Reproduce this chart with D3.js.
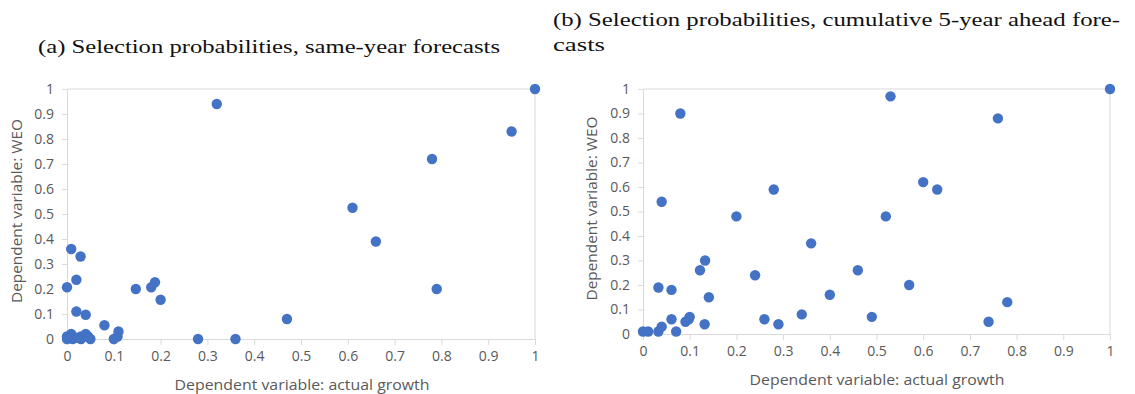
<!DOCTYPE html>
<html>
<head>
<meta charset="utf-8">
<script src="https://cdn.jsdelivr.net/npm/d3@7"></script>
<style>
  body { margin: 0; background: #fff; }
  .tick text { font-family: "Open Sans", sans-serif; font-size: 14px; fill: #595959; }
  .axis path, .axis line { stroke: #d9d9d9; }
</style>
</head>
<body>
<svg id="svg1" width="1135" height="394"></svg>
<script>
// (a) same-year forecasts
var actualA = [0.32, 1.0, 0.95, 0.78, 0.61, 0.66, 0.79, 0.47, 0.36, 0.28, 0.147, 0.18, 0.188, 0.2, 0.08, 0.11, 0.108, 0.10,
               0.009, 0.029, 0.02, 0.0, 0.02, 0.04, 0.0, 0.004, 0.009, 0.012, 0.03, 0.03, 0.04, 0.045, 0.05, 0.02, 0.0];
var weoA    = [0.94, 1.0, 0.83, 0.72, 0.525, 0.39, 0.20, 0.08, 0.0, 0.0, 0.20, 0.207, 0.227, 0.157, 0.055, 0.03, 0.01, 0.0,
               0.36, 0.33, 0.237, 0.207, 0.11, 0.097, 0.0, 0.01, 0.02, 0.0, 0.0, 0.01, 0.02, 0.01, 0.0, 0.005, 0.01];

// (b) cumulative 5-year ahead forecasts
var actualB = [0.0, 0.011, 0.033, 0.04, 0.061, 0.071, 0.091, 0.1, 0.132, 0.26, 0.29, 0.34, 0.49, 0.033, 0.061, 0.122, 0.133,
               0.141, 0.24, 0.04, 0.08, 0.2, 0.28, 0.36, 0.4, 0.46, 0.53, 0.52, 0.6, 0.63, 0.57, 0.74, 0.78, 0.76, 1.0, 0.098];
var weoB    = [0.01, 0.01, 0.01, 0.03, 0.06, 0.01, 0.05, 0.07, 0.04, 0.06, 0.04, 0.08, 0.07, 0.19, 0.18, 0.26, 0.30,
               0.15, 0.24, 0.54, 0.90, 0.48, 0.59, 0.37, 0.16, 0.26, 0.97, 0.48, 0.62, 0.59, 0.20, 0.05, 0.13, 0.88, 1.0, 0.06];

var ticks = [0, 0.1, 0.2, 0.3, 0.4, 0.5, 0.6, 0.7, 0.8, 0.9, 1];
var xTitle = "Dependent  variable: actual growth";
var yTitle = "Dependent  variable: WEO";

var svg = d3.select("#svg1");

// titles (serif, LaTeX caption look)
function caption(x, y, len, txt) {
    svg.append("text").attr("x", x).attr("y", y)
        .attr("textLength", len).attr("lengthAdjust", "spacingAndGlyphs")
        .style("font-family", "'Liberation Serif', serif").style("font-size", "19px").style("fill", "#111")
        .text(txt);
}
caption(38, 53, 462, "(a) Selection probabilities, same-year forecasts");
caption(553, 26, 567, "(b) Selection probabilities, cumulative 5-year ahead fore-");
caption(553, 51, 52, "casts");

function panel(xs, ys, left, right, top, bottom, xt, yt) {
    var x = d3.scaleLinear().domain([0, 1]).range([left, right]);
    var y = d3.scaleLinear().domain([0, 1]).range([bottom, top]);
    var g = svg.append("g");

    // top and right frame lines
    g.append("line").attr("x1", x(0)).attr("x2", x(1)).attr("y1", y(1)).attr("y2", y(1))
        .style("stroke", "#d9d9d9");
    g.append("line").attr("x1", x(1)).attr("x2", x(1)).attr("y1", y(0)).attr("y2", y(1))
        .style("stroke", "#d9d9d9");

    g.append("g").attr("class", "axis")
        .attr("transform", "translate(0," + y(0) + ")")
        .call(d3.axisBottom(x).tickValues(ticks).tickFormat(d3.format("")).tickSizeInner(6).tickSizeOuter(0).tickPadding(6));
    g.append("g").attr("class", "axis")
        .attr("transform", "translate(" + x(0) + ",0)")
        .call(d3.axisLeft(y).tickValues(ticks).tickFormat(d3.format("")).tickSizeInner(5).tickSizeOuter(0).tickPadding(8));

    g.append("text").attr("x", xt).attr("y", bottom + 51).attr("text-anchor", "middle")
        .attr("textLength", 255).attr("lengthAdjust", "spacingAndGlyphs")
        .style("font-family", "'Open Sans', sans-serif").style("font-size", "15px").style("fill", "#595959")
        .text(xTitle);
    g.append("text").attr("transform", "translate(" + yt + "," + ((top + bottom) / 2 - 3) + ") rotate(-90)")
        .attr("text-anchor", "middle")
        .attr("textLength", 184).attr("lengthAdjust", "spacingAndGlyphs")
        .style("font-family", "'Open Sans', sans-serif").style("font-size", "15px").style("fill", "#595959")
        .text(yTitle);

    g.selectAll(".dot").data(d3.range(xs.length)).enter()
        .append("circle").attr("class", "dot")
        .attr("cx", function(i){ return x(xs[i]); })
        .attr("cy", function(i){ return y(ys[i]); })
        .attr("r", 5.2)
        .style("fill", "#4472c4");
}

panel(actualA, weoA, 67, 535, 89, 339, 302, 22);
panel(actualB, weoB, 643, 1110, 89, 334, 877, 597);
</script>
</body>
</html>
